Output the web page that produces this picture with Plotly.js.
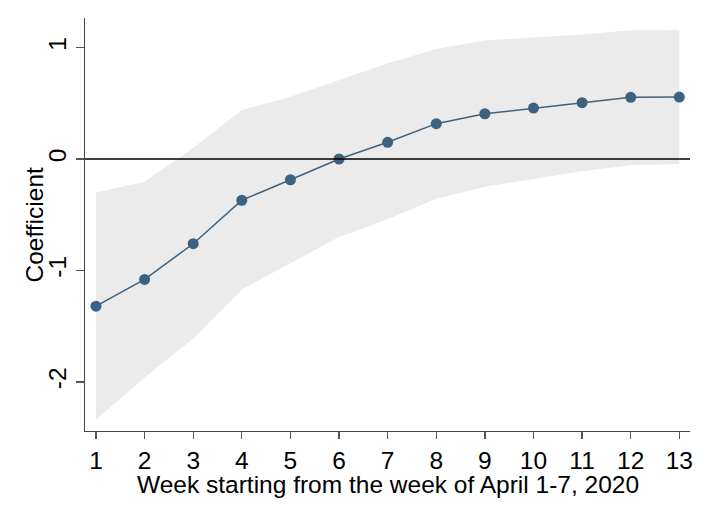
<!DOCTYPE html>
<html>
<head>
<meta charset="utf-8">
<script src="https://cdn.plot.ly/plotly-3.0.1.min.js"></script>
<style>
  html, body { margin: 0; padding: 0; background: #fff; }
  #chart { width: 709px; height: 516px; }
</style>
</head>
<body>
<div id="chart"></div>
<script>
// weeks and estimates
var weeks = [1, 2, 3, 4, 5, 6, 7, 8, 9, 10, 11, 12, 13];
var coef  = [-1.32, -1.08, -0.76, -0.37, -0.186, 0, 0.15, 0.317, 0.406, 0.457, 0.505, 0.553, 0.556];
var ciLow = [-2.34, -1.96, -1.61, -1.17, -0.935, -0.70, -0.54, -0.357, -0.248, -0.179, -0.110, -0.057, -0.045];
var ciHigh = [-0.30, -0.203, 0.10, 0.439, 0.559, 0.709, 0.858, 0.987, 1.064, 1.091, 1.118, 1.154, 1.157];
var yTicks = [-2, -1, 0, 1];
var yTickText = ['-2', '-1', '0', '1'];

var band = '#ebebeb';
var navy = '#3d6280';
var fontFam = 'Liberation Sans, Arial, sans-serif';

var lower = {
  x: weeks, y: ciLow,
  mode: 'lines', line: {width: 0, color: band},
  hoverinfo: 'skip', showlegend: false
};
var upper = {
  x: weeks, y: ciHigh,
  mode: 'lines', line: {width: 0, color: band},
  fill: 'tonexty', fillcolor: band,
  hoverinfo: 'skip', showlegend: false
};
var est = {
  x: weeks, y: coef,
  mode: 'lines+markers',
  line: {color: navy, width: 1.5},
  marker: {color: navy, size: 11},
  showlegend: false
};

var layout = {
  width: 709, height: 516,
  paper_bgcolor: '#fff', plot_bgcolor: '#fff',
  margin: {l: 85, r: 19, t: 18, b: 85},
  font: {family: fontFam, size: 24.5, color: '#000'},
  showlegend: false,
  xaxis: {
    range: [0.774, 13.22],
    tickvals: weeks,
    ticks: 'outside', ticklen: 7, tickcolor: '#555', tickwidth: 1.3,
    showline: true, linecolor: '#444', linewidth: 1.3,
    showgrid: false, zeroline: false,
    tickfont: {size: 24.5}
  },
  yaxis: {
    range: [-2.44, 1.265],
    tickvals: yTicks,
    ticktext: yTickText,
    tickangle: -90,
    ticks: 'outside', ticklen: 8, tickcolor: '#555', tickwidth: 1.3,
    showline: true, linecolor: '#444', linewidth: 1.3,
    showgrid: false, zeroline: false,
    tickfont: {size: 24.5}
  },
  // axis titles placed as annotations to sit closer like the original
  annotations: [
    {
      text: 'Week starting from the week of April 1-7, 2020',
      xref: 'paper', yref: 'paper', x: 0.5, y: 0,
      xanchor: 'center', yanchor: 'middle', yshift: -53,
      showarrow: false, font: {size: 24.5}
    },
    {
      text: 'Coefficient',
      xref: 'paper', yref: 'paper', x: 0, y: 0.5,
      xanchor: 'center', yanchor: 'middle', xshift: -51,
      textangle: -90, showarrow: false, font: {size: 24.5}
    }
  ],
  shapes: [{
    type: 'line', xref: 'paper', x0: 0, x1: 1,
    yref: 'y', y0: 0, y1: 0,
    line: {color: '#000', width: 1.5}
  }]
};

Plotly.newPlot('chart', [lower, upper, est], layout, {displayModeBar: false, staticPlot: true});
</script>
</body>
</html>
